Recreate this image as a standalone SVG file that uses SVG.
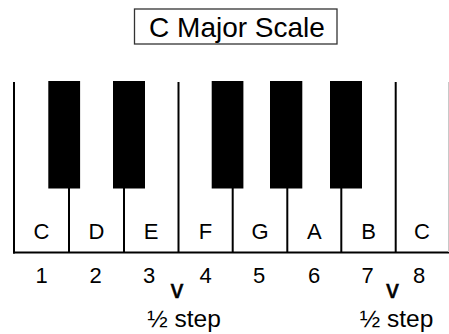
<svg xmlns="http://www.w3.org/2000/svg" width="449" height="334" viewBox="0 0 449 334">
  <style>
    .txt { font-family: "Liberation Sans", Arial, Helvetica, sans-serif; fill: #000; text-anchor: middle; }
    .title { font-size: 28px; }
    .note { font-size: 22px; }
    .num { font-size: 22px; }
    .step { font-size: 24.5px; }
    .mark { font-size: 25px; stroke: #000; stroke-width: 0.6; }
    .line { stroke: #000; stroke-width: 2; fill: none; }
    .black { fill: #000; }
  </style>
  <rect width="449" height="334" fill="#fff"/>

  <!-- title box -->
  <g id="title">
    <rect x="134.5" y="9" width="202.5" height="35" fill="#fff" stroke="#333" stroke-width="1.3"/>
    <text class="txt title" x="237" y="36.5">C Major Scale</text>
  </g>

  <!-- keyboard outline and key separators -->
  <g id="connectors">
    <line class="line" x1="14" y1="82" x2="14" y2="253.5"/>
    <line class="line" x1="13" y1="252.5" x2="449" y2="252.5"/>
    <line x1="448.5" y1="82" x2="448.5" y2="252" stroke="#c8c8c8" stroke-width="1"/>
    <line class="line" x1="69" y1="188" x2="69" y2="252"/>
    <line class="line" x1="124" y1="188" x2="124" y2="252"/>
    <line class="line" x1="178.5" y1="82" x2="178.5" y2="252"/>
    <line class="line" x1="232.7" y1="188" x2="232.7" y2="252"/>
    <line class="line" x1="287.3" y1="188" x2="287.3" y2="252"/>
    <line class="line" x1="341.3" y1="188" x2="341.3" y2="252"/>
    <line class="line" x1="395.7" y1="82" x2="395.7" y2="252"/>
  </g>

  <!-- black keys -->
  <g id="black-keys">
    <rect class="black" x="48.3" y="81" width="31.8" height="107.5"/>
    <rect class="black" x="113" y="81" width="32" height="107.5"/>
    <rect class="black" x="211.7" y="81" width="31.7" height="107.5"/>
    <rect class="black" x="270" y="81" width="32.3" height="107.5"/>
    <rect class="black" x="330" y="81" width="32" height="107.5"/>
  </g>

  <!-- white keys: note name and scale degree -->
  <g id="key-1"><text class="txt note" x="41.5" y="238.5">C</text><text class="txt num" x="41.5" y="283">1</text></g>
  <g id="key-2"><text class="txt note" x="96.5" y="238.5">D</text><text class="txt num" x="95.5" y="283">2</text></g>
  <g id="key-3"><text class="txt note" x="151.2" y="238.5">E</text><text class="txt num" x="149" y="283">3</text></g>
  <g id="key-4"><text class="txt note" x="205.6" y="238.5">F</text><text class="txt num" x="205.5" y="283">4</text></g>
  <g id="key-5"><text class="txt note" x="260" y="238.5">G</text><text class="txt num" x="259" y="283">5</text></g>
  <g id="key-6"><text class="txt note" x="314.3" y="238.5">A</text><text class="txt num" x="314" y="283">6</text></g>
  <g id="key-7"><text class="txt note" x="368.5" y="238.5">B</text><text class="txt num" x="367.5" y="283">7</text></g>
  <g id="key-8"><text class="txt note" x="422" y="238.5">C</text><text class="txt num" x="419" y="283">8</text></g>

  <!-- half-step markers -->
  <g id="half-step-1">
    <text class="txt mark" x="177" y="297.5">v</text>
    <text class="txt step" x="184" y="327">½ step</text>
  </g>
  <g id="half-step-2">
    <text class="txt mark" x="392.5" y="297.5">v</text>
    <text class="txt step" x="396.5" y="327">½ step</text>
  </g>
</svg>
